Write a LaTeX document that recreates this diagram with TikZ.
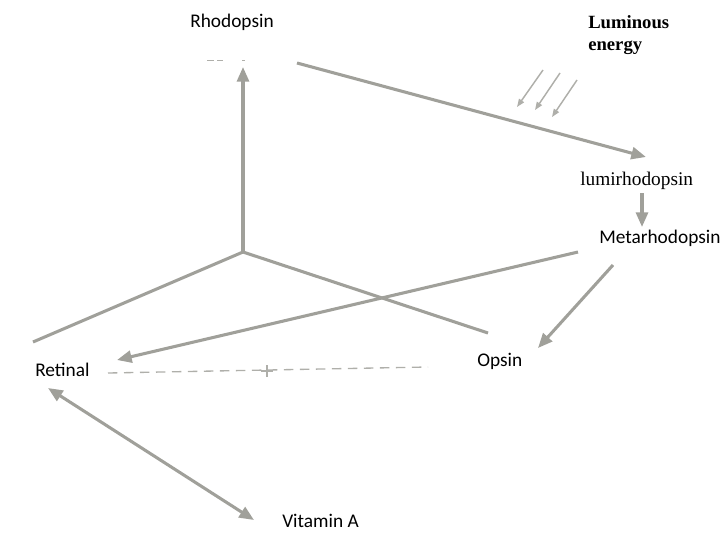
\documentclass[tikz,border=0pt]{standalone}
\usepackage{fontspec}
\setmainfont{Liberation Serif}
\newfontfamily\calib{Carlito}
\usetikzlibrary{arrows.meta}

\definecolor{linegray}{RGB}{160,160,154}
\definecolor{lightgray}{RGB}{175,175,170}

\tikzset{
  lbl/.style={font=\calib\fontsize{14.5}{17}\selectfont, inner sep=0pt, anchor=base west},
  slbl/.style={font=\fontsize{14.5}{16}\selectfont, inner sep=0pt, anchor=base west},
  link/.style={draw=linegray, line width=2.3pt},
  lnk/.style={link, -{Triangle[length=11pt,width=9pt]}},
  ray/.style={draw=lightgray, line width=1.1pt, -{Triangle[length=6pt,width=4.5pt]}}
}

\begin{document}
\begin{tikzpicture}[x=0.75pt,y=-0.75pt]
\useasboundingbox (0,0) rectangle (723,535);

% labels
\node[lbl] (rho) at (190,28) {Rhodopsin};
\node[slbl, font=\bfseries\fontsize{14}{16.5}\selectfont, align=left, anchor=north west] (lum) at (588,15) {Luminous\\energy};
\node[slbl] (lumi) at (580,185) {lumirhodopsin};
\node[lbl] (meta) at (599,243) {Metarhodopsin};
\node[lbl] (ops) at (477,366) {Opsin};
\node[lbl] (ret) at (35,376) {Retinal};
\node[lbl] (vita) at (282,527) {Vitamin A};

% connector ends
\coordinate (c) at (243,252);
\coordinate (rtop) at (243,67);
\coordinate (rout) at (297,63);
\coordinate (lin) at (646,157);
\coordinate (lout) at (642,193);
\coordinate (min) at (642,227);
\coordinate (mout1) at (578,252);
\coordinate (mout2) at (613,265);
\coordinate (retin) at (117,360);
\coordinate (retup) at (33,342);
\coordinate (opsin) at (538,348);
\coordinate (opsup) at (488,333);
\coordinate (retdn) at (48,388);
\coordinate (vitup) at (254,520);
\coordinate (d1) at (108,373);
\coordinate (d2) at (428,367);
\coordinate (plus) at (267,371);

% faint marks under Rhodopsin
\draw[lightgray, line width=0.6pt] (207,60) -- (214,60) (217,60) -- (223,60) (242,60) -- (245,60);

\draw[lnk] (c) -- (rtop);
\draw[link] (c) -- (retup);
\draw[link] (c) -- (opsup);
\draw[lnk] (rout) -- (lin);
\draw[lnk] (lout) -- (min);
\draw[lnk] (mout1) -- (retin);
\draw[lnk] (mout2) -- (opsin);
\draw[link, {Triangle[length=11pt,width=9pt]}-{Triangle[length=11pt,width=9pt]}] (retdn) -- (vitup);

% dashed link Retinal + Opsin
\draw[lightgray, line width=1pt, dash pattern=on 7pt off 5pt] (d1) -- (d2);
\draw[lightgray, line width=1.2pt] ([xshift=-4.5pt]plus) -- ([xshift=4.5pt]plus)
  ([yshift=-4.5pt]plus) -- ([yshift=4.5pt]plus);

% light rays
\draw[ray] (543,70) -- (517,107);
\draw[ray] (560,73) -- (535,110);
\draw[ray] (577,80) -- (552,117);
\end{tikzpicture}
\end{document}
